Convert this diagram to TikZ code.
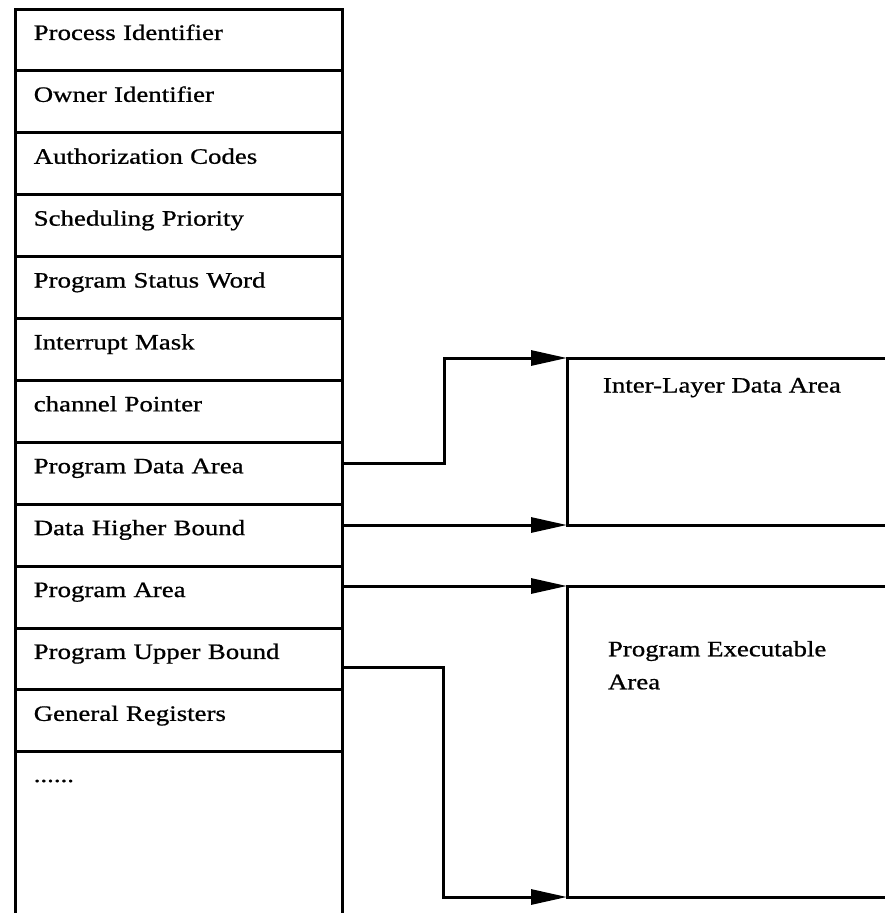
\documentclass[tikz,border=0pt]{standalone}
\usepackage{fontspec}
\setmainfont{Liberation Serif}[FakeStretch=1.22, FakeBold=0.8]
\usetikzlibrary{arrows.meta}
\begin{document}
\begin{tikzpicture}[x=1pt,y=-1pt,
  line width=3pt,
  every node/.style={font=\fontsize{22}{33}\selectfont, inner sep=0pt, outer sep=0pt},
  field/.style={draw, rectangle, minimum width=327.5pt, minimum height=61.9pt,
    text width=290pt, align=left, text height=10pt, text depth=10pt},
  tailfield/.style={rectangle, minimum width=327.5pt,
    text width=290pt, align=left, text height=10pt, text depth=10pt},
  area/.style={rectangle, inner sep=0pt},
  label/.style={anchor=north west, align=left},
  conn/.style={-{Triangle[length=36pt,width=15pt]}}
]
\useasboundingbox (0,0) rectangle (885,913);
\fill[white] (0,0) rectangle (885,913);

% process control block fields
\node[field] (pid)  at (178.75, 39.95)  {Process Identifier};
\node[field] (oid)  at (178.75, 101.85) {Owner Identifier};
\node[field] (auth) at (178.75, 163.75) {Authorization Codes};
\node[field] (prio) at (178.75, 225.65) {Scheduling Priority};
\node[field] (psw)  at (178.75, 287.55) {Program Status Word};
\node[field] (imask) at (178.75, 349.45) {Interrupt Mask};
\node[field] (chan) at (178.75, 411.35) {channel Pointer};
\node[field] (pda)  at (178.75, 473.25) {Program Data Area};
\node[field] (dhb)  at (178.75, 535.15) {Data Higher Bound};
\node[field] (parea) at (178.75, 597.05) {Program Area};
\node[field] (pub)  at (178.75, 658.95) {Program Upper Bound};
\node[field] (greg) at (178.75, 720.85) {General Registers};
\node[tailfield] (more) at (178.75, 782) {......};

% open lower part of the block
\draw (greg.south west) -- ++(0,162);
\draw (greg.south east) -- ++(0,162);

% memory areas (open to the right)
\node[area, minimum width=319pt, minimum height=167pt] (ila) at (726.5, 441.5) {};
\node[area, minimum width=319pt, minimum height=311pt] (pea) at (726.5, 741.5) {};
\draw (ila.north east) -- (ila.north west) -- (ila.south west) -- (ila.south east);
\draw (pea.north east) -- (pea.north west) -- (pea.south west) -- (pea.south east);

\node[label] (ilatext) at (603, 378) {Inter-Layer Data Area};
\node[label] (peatext) at (608, 641) {Program Executable\\Area};

% pointers into the memory areas
\draw[conn] ([yshift=10pt]pda.east) -- ++(102,0) |- (ila.north west);
\draw[conn] (dhb.east |- ila.south west) -- (ila.south west);
\draw[conn] (parea.east |- pea.north west) -- (pea.north west);
\draw[conn] ([yshift=-9pt]pub.east) -- ++(101,0) |- (pea.south west);
\end{tikzpicture}
\end{document}
